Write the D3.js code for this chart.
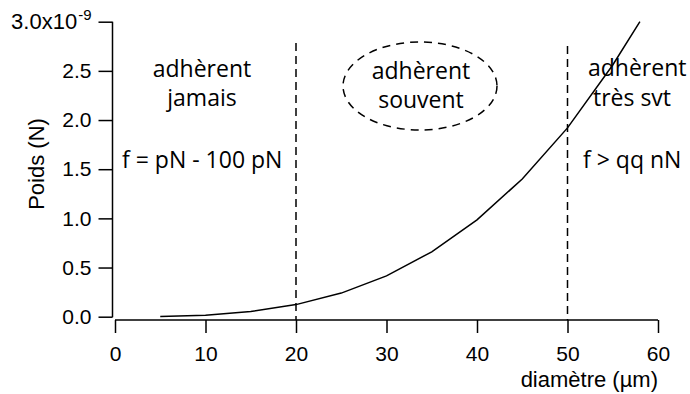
<!DOCTYPE html>
<html>
<head>
<meta charset="utf-8">
<script src="https://cdn.jsdelivr.net/npm/d3@7"></script>
<style>
  html, body { margin: 0; padding: 0; background: #fff; }
  svg { display: block; }
  .tick text { font-family: "Liberation Sans", Arial, sans-serif; font-size: 21px; fill: #000; }
  .title { font-family: "Liberation Sans", Arial, sans-serif; font-size: 22px; fill: #000; }
  .note { font-family: "Open Sans", "Noto Sans", sans-serif; font-size: 23px; fill: #000; }
</style>
</head>
<body>
<svg id="chart" width="690" height="394"></svg>
<script>
// sphere weight versus diameter
const diameters = [5, 10, 15, 20, 25, 30, 35, 40, 45, 50, 55, 58];
const weights = [0.002e-9, 0.015e-9, 0.052e-9, 0.123e-9, 0.24e-9, 0.415e-9, 0.66e-9, 0.985e-9, 1.40e-9, 1.92e-9, 2.56e-9, 3.0e-9];
const xTicks = [0, 10, 20, 30, 40, 50, 60];
const yTicks = [0, 0.5e-9, 1.0e-9, 1.5e-9, 2.0e-9, 2.5e-9, 3.0e-9];
const boundaries = [20, 50];

const svg = d3.select("#chart");
const x = d3.scaleLinear().domain([0, 60]).range([115, 658]);
const y = d3.scaleLinear().domain([0, 3.0e-9]).range([316.7, 21.7]);

// y axis (left), offset slightly from the x axis
const yAxis = d3.axisLeft(y).tickValues(yTicks).tickSize(14).tickPadding(7)
  .tickFormat(d => d === 3.0e-9 ? "" : (d * 1e9).toFixed(1));
const gy = svg.append("g").attr("transform", "translate(112.5,0)").call(yAxis);
gy.attr("font-size", null).attr("font-family", null);
gy.select(".domain").attr("d", `M0,${y(3.0e-9)}V${y(0) + 0.5}`).attr("stroke-width", 1.5);
gy.selectAll(".tick line").attr("stroke-width", 1.5);

// top label with exponent
const topLabel = gy.selectAll(".tick").filter(d => d === 3.0e-9).select("text");
topLabel.text(null);
topLabel.append("tspan").attr("font-size", 22).text("3.0x10");
topLabel.append("tspan").attr("dx", 1).attr("dy", -9).attr("font-size", 15).text("-9");

// x axis (bottom)
const xAxis = d3.axisBottom(x).tickValues(xTicks).tickSize(13).tickPadding(13);
const gx = svg.append("g").attr("transform", "translate(0,320)").call(xAxis);
gx.attr("font-size", null).attr("font-family", null);
gx.select(".domain").attr("d", `M${x(0)},0H${x(60)}`).attr("stroke-width", 1.5);
gx.selectAll(".tick line").attr("stroke-width", 1.5);

// axis titles
svg.append("text").attr("class", "title")
  .attr("transform", "translate(44,164) rotate(-90)")
  .attr("text-anchor", "middle")
  .text("Poids (N)");
svg.append("text").attr("class", "title")
  .attr("x", 658).attr("y", 387).attr("text-anchor", "end")
  .text("diamètre (µm)");

// region boundaries
svg.selectAll("line.bound").data(boundaries).join("line")
  .attr("class", "bound")
  .attr("x1", d => x(d)).attr("x2", d => x(d))
  .attr("y1", (d, i) => i === 0 ? 43 : 46).attr("y2", 320)
  .attr("stroke", "#000").attr("stroke-width", 1.5)
  .attr("stroke-dasharray", "8,5");

// weight curve
const line = d3.line().x((d, i) => x(diameters[i])).y(d => y(d));
svg.append("path").datum(weights)
  .attr("d", line).attr("fill", "none")
  .attr("stroke", "#000").attr("stroke-width", 1.5);

// dashed ellipse around the middle region label
svg.append("ellipse")
  .attr("cx", 420).attr("cy", 86).attr("rx", 77).attr("ry", 44)
  .attr("fill", "none").attr("stroke", "#000").attr("stroke-width", 1.5)
  .attr("stroke-dasharray", "8,6");

// region annotations
const notes = [
  { t: "adhèrent", x: 202, y: 77, a: "middle" },
  { t: "jamais", x: 202, y: 106, a: "middle" },
  { t: "f = pN - 100 pN", x: 122, y: 168, a: "start" },
  { t: "adhèrent", x: 421, y: 79, a: "middle" },
  { t: "souvent", x: 421, y: 108, a: "middle" },
  { t: "adhèrent", x: 588, y: 76, a: "start" },
  { t: "très svt", x: 632, y: 106, a: "middle" },
  { t: "f > qq nN", x: 583, y: 168, a: "start" }
];
svg.selectAll("text.note").data(notes).join("text")
  .attr("class", "note")
  .attr("x", d => d.x).attr("y", d => d.y)
  .attr("text-anchor", d => d.a)
  .text(d => d.t);
</script>
</body>
</html>
